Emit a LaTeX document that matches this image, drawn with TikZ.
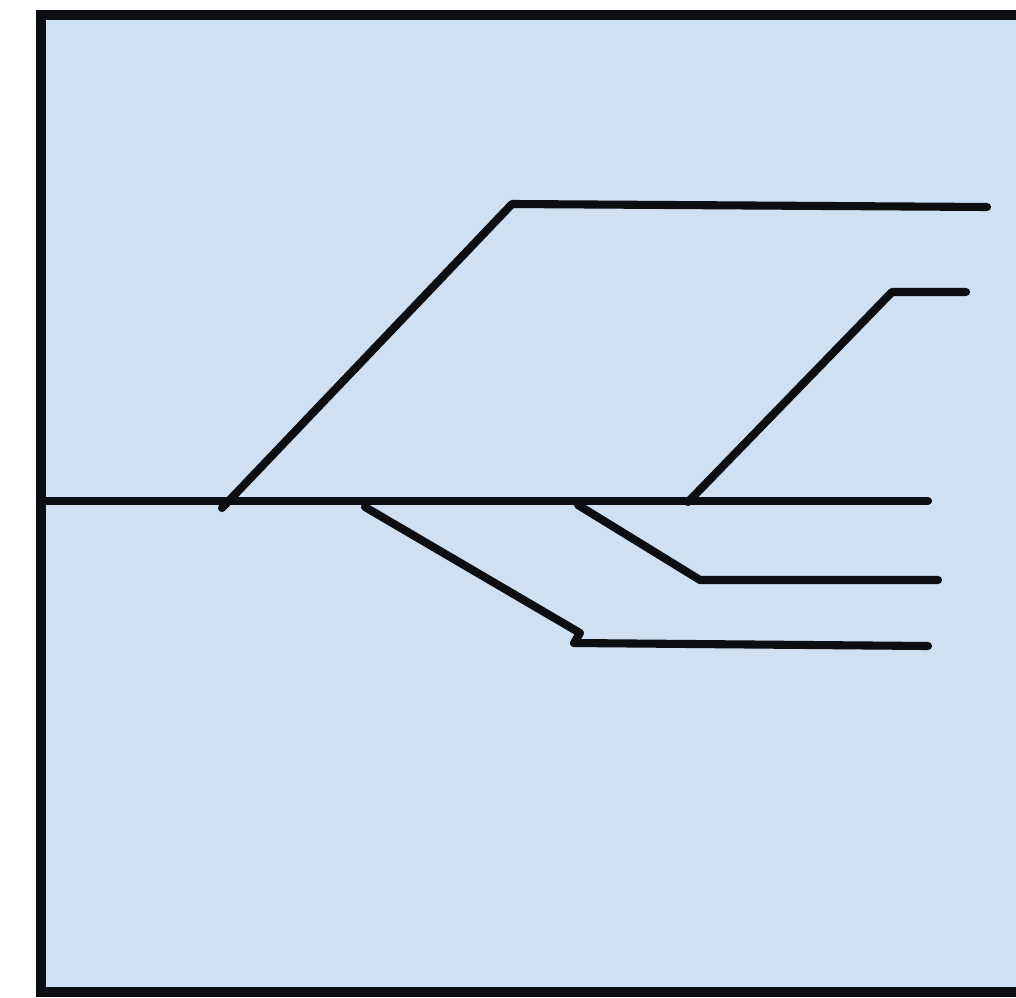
\documentclass[tikz,border=0pt]{standalone}
\definecolor{panelblue}{RGB}{207,224,243}
\definecolor{inkline}{RGB}{12,14,18}
\tikzset{
  track/.style={draw=inkline, line width=2.3pt, line cap=round, line join=round},
  frame/.style={draw=inkline, line width=3pt, fill=panelblue}
}
\begin{document}
\begin{tikzpicture}[x=0.01cm, y=-0.01cm]
\useasboundingbox (0,0) rectangle (1016,997);
\clip (0,0) rectangle (1016,997);
\fill[white] (0,0) rectangle (1016,997);
\draw[frame] (41,15) rectangle (1040,992);
% named points
\coordinate (m0) at (41,501);
\coordinate (m1) at (928,501);
\coordinate (a0) at (222,508);
\coordinate (a1) at (512,204);
\coordinate (a2) at (987,207);
\coordinate (b0) at (688,502);
\coordinate (b1) at (892,292);
\coordinate (b2) at (966,292);
\coordinate (c0) at (365,507);
\coordinate (c1) at (580,633);
\coordinate (c2) at (574,643);
\coordinate (c3) at (928,646);
\coordinate (d0) at (578,505);
\coordinate (d1) at (700,580);
\coordinate (d2) at (938,580);
\draw[track] (m0) -- (m1);
\draw[track] (a0) -- (a1) -- (a2);
\draw[track] (b0) -- (b1) -- (b2);
\draw[track] (c0) -- (c1) -- (c2) -- (c3);
\draw[track] (d0) -- (d1) -- (d2);
\end{tikzpicture}
\end{document}
